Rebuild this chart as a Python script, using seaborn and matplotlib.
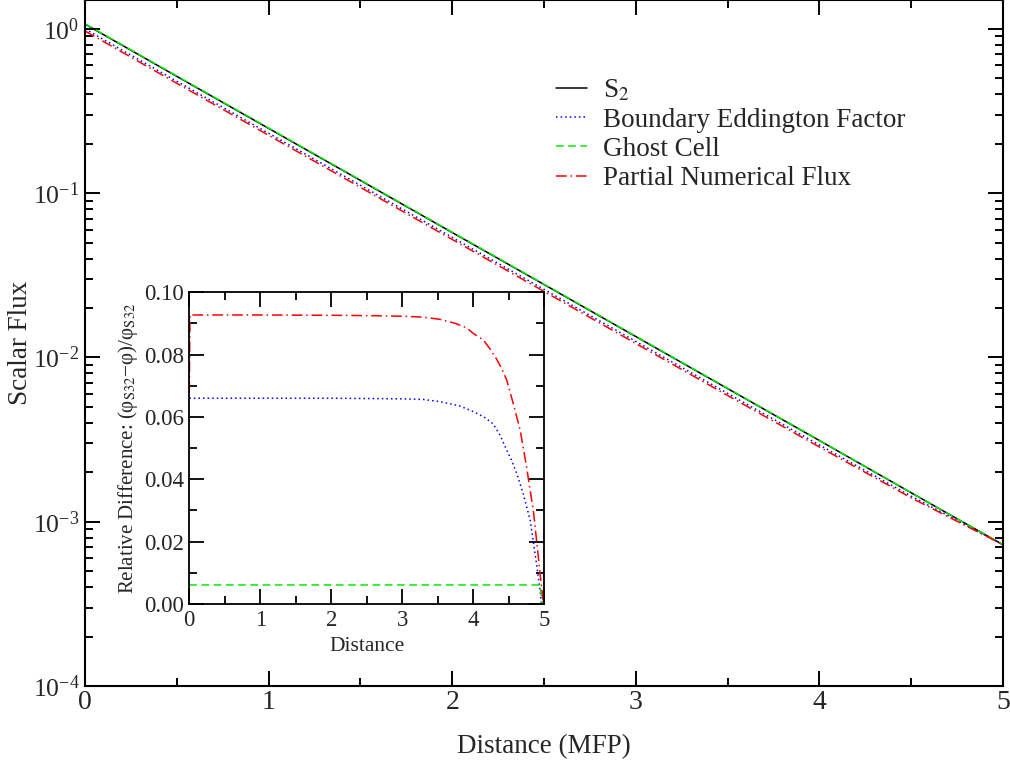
import numpy as np
import pandas as pd
import matplotlib
matplotlib.use("Agg")
import matplotlib.pyplot as plt
import seaborn as sns
from matplotlib.ticker import MultipleLocator, LogLocator, NullFormatter, FormatStrFormatter

# main panel: scalar flux vs distance
dist = [0.0, 0.5, 1.0, 1.5, 2.0, 2.5, 3.0, 3.5, 4.0, 4.5, 5.0]
flux_s2 = [1.07, 0.514, 0.248, 0.1196, 0.0576, 0.0278, 0.0134, 0.00646, 0.00312, 0.00150, 0.000724]
flux_bef = [0.999, 0.480, 0.2316, 0.1117, 0.0538, 0.02597, 0.01252, 0.00604, 0.00293, 0.00143, 0.000724]
flux_gc = [1.075, 0.517, 0.2494, 0.1203, 0.0579, 0.02795, 0.01347, 0.00649, 0.00313, 0.00150, 0.000724]
flux_pnf = [0.971, 0.4665, 0.2251, 0.1085, 0.05227, 0.02523, 0.01216, 0.00587, 0.00285, 0.001397, 0.000724]

# inset: relative difference to S32
rd_bef_x = [0.0, 1.0, 2.0, 2.5, 3.0, 3.3, 3.53, 3.8, 4.0, 4.15, 4.28, 4.38, 4.47, 4.54, 4.61, 4.70, 4.80, 4.89, 4.94, 4.96, 5.0]
rd_bef_y = [0.0660, 0.0660, 0.0660, 0.0659, 0.0658, 0.0656, 0.0649, 0.0636, 0.0617, 0.0600, 0.0578, 0.0540, 0.0494, 0.0460, 0.0420, 0.0356, 0.0270, 0.0130, 0.0045, 0.0, 0.0]
rd_gc_x = [0.0, 4.94, 4.97]
rd_gc_y = [0.0061, 0.0061, 0.0]
rd_pnf_x = [0.0, 0.01, 1.0, 2.0, 2.5, 3.0, 3.3, 3.53, 3.75, 3.91, 4.0, 4.14, 4.23, 4.33, 4.40, 4.47, 4.56, 4.66, 4.75, 4.85, 4.91, 4.96, 4.99, 5.0]
rd_pnf_y = [0.068, 0.0927, 0.0927, 0.0926, 0.0925, 0.0923, 0.0920, 0.0913, 0.0900, 0.0885, 0.0868, 0.0847, 0.0820, 0.0785, 0.0755, 0.0719, 0.0645, 0.0558, 0.0440, 0.0292, 0.0164, 0.0055, 0.0, 0.026]

sns.set_theme(style="ticks")
plt.rcParams['font.family'] = ['Liberation Serif', 'DejaVu Serif']
plt.rcParams['mathtext.fontset'] = 'stix'

fig = plt.figure(figsize=(10.1, 7.65), dpi=100)
ax = fig.add_axes([0.0842, 0.1033, 0.9089, 0.8967])

styles = {
    'S2': dict(color='black', linestyle='-'),
    'BEF': dict(color='#0000ff', linestyle=(0, (1, 2))),
    'GC': dict(color='#00ee00', linestyle=(0, (5, 3))),
    'PNF': dict(color='#ff0000', linestyle=(0, (7, 2.5, 1, 2.5))),
}

sns.lineplot(x=dist, y=flux_s2, ax=ax, lw=1.1, estimator=None, label='S$_2$', **styles['S2'])
sns.lineplot(x=dist, y=flux_bef, ax=ax, lw=1.1, estimator=None, label='Boundary Eddington Factor', **styles['BEF'])
sns.lineplot(x=dist, y=flux_gc, ax=ax, lw=1.1, estimator=None, label='Ghost Cell', **styles['GC'])
sns.lineplot(x=dist, y=flux_pnf, ax=ax, lw=1.1, estimator=None, label='Partial Numerical Flux', **styles['PNF'])

ax.set_yscale('log')
ax.set_xlim(0, 5)
ax.set_ylim(1e-4, 1.5)
ax.xaxis.set_major_locator(MultipleLocator(1))
ax.xaxis.set_minor_locator(MultipleLocator(0.5))
ax.yaxis.set_major_locator(LogLocator(base=10, numticks=10))
ax.yaxis.set_minor_locator(LogLocator(base=10, subs=np.arange(2, 10), numticks=20))
ax.yaxis.set_minor_formatter(NullFormatter())
ax.tick_params(which='both', direction='in', top=True, right=True, width=1.4, color='black')
ax.tick_params(which='major', length=11)
ax.tick_params(axis='x', which='major', pad=3, labelsize=20)
ax.tick_params(axis='y', which='major', pad=4, labelsize=18.5)
ax.tick_params(which='minor', length=5.5)
for s in ax.spines.values():
    s.set_linewidth(1.5)
    s.set_color('black')
ax.set_xlabel('Distance (MFP)', fontsize=19.5, labelpad=14)
ax.set_ylabel('Scalar Flux', fontsize=19.5)
ax.yaxis.set_label_coords(-0.0566, 0.5)

leg = ax.legend(loc='upper left', bbox_to_anchor=(0.513, 0.886), frameon=False,
                fontsize=19.5, handlelength=1.15, handletextpad=0.6,
                labelspacing=0.15, borderpad=0, borderaxespad=0)

# inset
ins = fig.add_axes([0.1874, 0.2105, 0.3515, 0.4075])
ins.set_facecolor('white')
sns.lineplot(x=rd_bef_x, y=rd_bef_y, ax=ins, lw=1.1, estimator=None, sort=False, **styles['BEF'])
sns.lineplot(x=rd_gc_x, y=rd_gc_y, ax=ins, lw=1.1, estimator=None, sort=False, **styles['GC'])
sns.lineplot(x=rd_pnf_x, y=rd_pnf_y, ax=ins, lw=1.1, estimator=None, sort=False, **styles['PNF'])
ins.set_xlim(0, 5)
ins.set_ylim(0, 0.1)
ins.xaxis.set_major_locator(MultipleLocator(1))
ins.xaxis.set_minor_locator(MultipleLocator(0.5))
ins.yaxis.set_major_locator(MultipleLocator(0.02))
ins.yaxis.set_minor_locator(MultipleLocator(0.01))
ins.yaxis.set_major_formatter(FormatStrFormatter('%.2f'))
ins.tick_params(which='both', direction='in', top=True, right=True, width=1.3, color='black')
ins.tick_params(which='major', length=11, labelsize=16.5, pad=4)
ins.tick_params(which='minor', length=5.5)
for s in ins.spines.values():
    s.set_linewidth(1.3)
    s.set_color('black')
ins.set_xlabel('Distance', fontsize=15.5, labelpad=5)
ins.set_ylabel(r'Relative Difference: (φ$_{\mathrm{S32}}$−φ)/φ$_{\mathrm{S32}}$', fontsize=15, labelpad=3)
if ins.get_legend() is not None:
    ins.get_legend().remove()

fig.savefig('out.png', dpi=100)
